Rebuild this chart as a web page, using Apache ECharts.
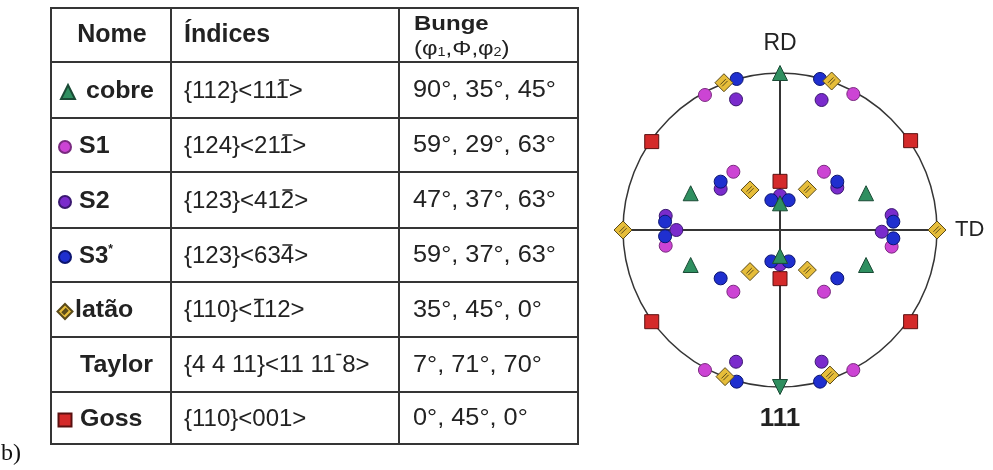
<!DOCTYPE html>
<html>
<head>
<meta charset="utf-8">
<script src="https://cdn.jsdelivr.net/npm/echarts@6/dist/echarts.min.js"></script>
<style>
  html, body { margin: 0; padding: 0; background: #fff; }
  #chart { width: 993px; height: 470px; }
</style>
</head>
<body>
<div id="chart"></div>
<script>
// ---- Texture components (table) ----
const componentNames = ['cobre', 'S1', 'S2', 'S3*', 'latão', 'Taylor', 'Goss'];
// U+0305 marks the digit (or gap) that carries an overbar
const millerIndices = ['{112}<111\u0305>', '{124}<211\u0305>', '{123}<412\u0305>', '{123}<634\u0305>',
                       '{110}<1\u030512>', '{4 4 11}<11 11 \u03058>', '{110}<001>'];
const bungeAngles = ['90°, 35°, 45°', '59°, 29°, 63°', '47°, 37°, 63°', '59°, 37°, 63°',
                     '35°, 45°, 0°', '7°, 71°, 70°', '0°, 45°, 0°'];
const headerNome = 'Nome';
const headerIndices = 'Índices';
const headerBunge = 'Bunge';
const panelLabel = 'b)';

// ---- {111} pole figure: [TD, RD] in units of the projection radius ----
const cobrePoles = [[0, 1.0], [0, -1.0], [-0.569, 0.234], [0.548, 0.234],
                    [-0.569, -0.223], [0.548, -0.223], [0, 0.17], [0, -0.165]];
const s1Poles = [[-0.478, 0.860], [0.467, 0.866], [-0.478, -0.892], [0.467, -0.892],
                 [-0.297, 0.371], [0.280, 0.371], [-0.297, -0.393], [0.280, -0.393],
                 [-0.728, -0.100], [0.711, -0.106]];
const s2Poles = [[-0.280, 0.832], [0.265, 0.828], [-0.280, -0.839], [0.265, -0.839],
                 [-0.378, 0.262], [0.365, 0.270], [-0.728, 0.090], [0.711, 0.095],
                 [-0.660, 0.0], [0.648, -0.011], [0, 0.22], [0, -0.22]];
const s3Poles = [[-0.276, 0.962], [0.255, 0.962], [-0.276, -0.966], [0.255, -0.966],
                 [-0.378, 0.308], [0.365, 0.308], [-0.378, -0.308], [0.365, -0.308],
                 [-0.732, 0.053], [0.722, 0.053], [-0.732, -0.040], [0.722, -0.053],
                 [-0.055, 0.19], [0.055, 0.19], [-0.055, -0.20], [0.055, -0.20]];
const lataoPoles = [[-1.0, 0], [1.0, 0], [-0.357, 0.938], [0.329, 0.949],
                    [-0.350, -0.934], [0.318, -0.924], [-0.191, 0.255], [0.174, 0.259],
                    [-0.191, -0.265], [0.174, -0.255]];
const gossPoles = [[-0.817, 0.563], [0.832, 0.569], [-0.817, -0.584], [0.832, -0.584],
                   [0, 0.31], [0, -0.31]];
const axisRD = 'RD';
const axisTD = 'TD';
const poleTitle = '111';

// ---- drawing ----
const INK = '#222';
const LINE = '#353535';
const SANS = '"Liberation Sans", Arial, sans-serif';
const measure = document.createElement('canvas').getContext('2d');

function label(text, x, y, font, extra) {
  extra = extra || {};
  const el = {
    type: 'text', x: x, y: y, silent: true,
    style: {
      text: text, font: font, fill: extra.fill || INK,
      textAlign: extra.align || 'left', align: extra.align || 'left',
      textVerticalAlign: 'middle', verticalAlign: 'middle'
    }
  };
  if (extra.rich) el.style.rich = extra.rich;
  if (extra.scaleX) el.scaleX = extra.scaleX;
  return el;
}

// text with overbars: characters followed by U+0305 get a short line above them
function barredText(raw, x, y, font) {
  let plain = '';
  const barred = [];
  for (const ch of raw) {
    if (ch === '\u0305') barred.push(plain.length - 1); else plain += ch;
  }
  measure.font = font;
  const els = [label(plain, x, y, font)];
  barred.forEach(function (i) {
    const x0 = x + measure.measureText(plain.slice(0, i)).width;
    const w = measure.measureText(plain[i]).width;
    els.push({
      type: 'line', silent: true,
      shape: { x1: x0 + w * 0.12, y1: y - 11, x2: x0 + w * 0.88, y2: y - 11 },
      style: { stroke: INK, lineWidth: 1.5 }
    });
  });
  return els;
}

// table geometry
const colX = [51, 171, 399, 578];
const rowY = [8, 62, 118, 172, 228, 282, 337, 392, 444];
const nameX = [86, 79, 79, 79, 75, 80, 80];
const rowsWithIcon = [true, true, true, true, true, false, true];

const graphics = [];
// grid lines
graphics.push({ type: 'rect', silent: true,
  shape: { x: colX[0], y: rowY[0], width: colX[3] - colX[0], height: rowY[rowY.length - 1] - rowY[0] },
  style: { fill: 'none', stroke: LINE, lineWidth: 2 } });
[colX[1], colX[2]].forEach(function (x) {
  graphics.push({ type: 'line', silent: true, shape: { x1: x, y1: rowY[0], x2: x, y2: rowY[rowY.length - 1] },
    style: { stroke: LINE, lineWidth: 2 } });
});
rowY.slice(1, -1).forEach(function (y) {
  graphics.push({ type: 'line', silent: true, shape: { x1: colX[0], y1: y, x2: colX[3], y2: y },
    style: { stroke: LINE, lineWidth: 2 } });
});

// header
const headY = (rowY[0] + rowY[1]) / 2;
graphics.push(label(headerNome, 112, headY, 'bold 25px ' + SANS, { align: 'center' }));
graphics.push(label(headerIndices, 184, headY, 'bold 25px ' + SANS));
graphics.push(label(headerBunge, 414, 24, 'bold 20px ' + SANS, { scaleX: 1.2 }));
graphics.push(label('(φ{s|1},Φ,φ{s|2})', 414, 49, '20px ' + SANS, {
  scaleX: 1.2,
  rich: { s: { font: '12px ' + SANS, verticalAlign: 'bottom', fill: INK } }
}));

// body rows
componentNames.forEach(function (name, i) {
  const cy = (rowY[i + 1] + rowY[i + 2]) / 2 + 1;
  if (name === 'S3*') {
    graphics.push(label('S3{s|*}', nameX[i], cy, 'bold 24px ' + SANS,
      { rich: { s: { font: 'bold 12px ' + SANS, verticalAlign: 'top', fill: INK } } }));
  } else {
    graphics.push(label(name, nameX[i], cy, 'bold 24px ' + SANS, { scaleX: 1.04 }));
  }
  barredText(millerIndices[i], 184, cy, '24px ' + SANS).forEach(function (e) { graphics.push(e); });
  graphics.push(label(bungeAngles[i], 413, cy, '23px ' + SANS, { scaleX: 1.1 }));
});
graphics.push(label(panelLabel, 1, 454, '24px "Liberation Serif", "Times New Roman", serif', { fill: '#111' }));

// legend icons in the name column, taken from the series symbols
const iconSize = { 'cobre': 14, 'S1': 12, 'S2': 12, 'S3*': 12, 'latão': 15, 'Goss': 13 };
const iconX = { 'cobre': 67, 'S1': 64, 'S2': 64, 'S3*': 64, 'latão': 64, 'Goss': 64 };
const legends = [];
componentNames.forEach(function (name, i) {
  if (!rowsWithIcon[i]) return;
  const cy = (rowY[i + 1] + rowY[i + 2]) / 2 + 1;
  const s = iconSize[name];
  legends.push({
    data: [name], left: iconX[name] - s / 2, top: cy - s / 2,
    itemWidth: s, itemHeight: s, padding: 0, itemGap: 0,
    selectedMode: false, formatter: function () { return ''; },
    textStyle: { fontSize: 8, lineHeight: s }
  });
});

const DIAMOND = 'path://M10,0 L20,10 L10,20 L0,10 Z M6,12 L12,6 M8,14 L14,8';

function poleSeries(name, data, symbol, size, color, border) {
  return {
    type: 'scatter', name: name, data: data, symbol: symbol, symbolSize: size,
    clip: false, z: 3,
    itemStyle: { color: color, borderColor: border, borderWidth: 1, opacity: 1 },
    emphasis: { disabled: true }
  };
}

const axisCommon = {
  type: 'value', min: -1, max: 1,
  axisLine: { onZero: true, lineStyle: { color: LINE, width: 2 } },
  axisTick: { show: false }, axisLabel: { show: false }, splitLine: { show: false }
};

const option = {
  animation: false,
  backgroundColor: '#fff',
  title: {
    text: poleTitle, left: 780, top: 406, padding: 0, textAlign: 'center',
    textStyle: { fontFamily: SANS, fontSize: 26, fontWeight: 'bold', color: INK }
  },
  grid: { left: 623, top: 73, width: 314, height: 314 },
  xAxis: Object.assign({}, axisCommon, {
    name: axisTD, nameLocation: 'end', nameGap: 18,
    nameTextStyle: { fontFamily: SANS, fontSize: 22, color: INK }
  }),
  yAxis: Object.assign({}, axisCommon, {
    name: axisRD, nameLocation: 'end', nameGap: 18,
    nameTextStyle: { fontFamily: SANS, fontSize: 23, color: INK, align: 'center' }
  }),
  polar: { center: [780, 230], radius: 157 },
  angleAxis: {
    type: 'value', min: 0, max: 360,
    axisLine: { lineStyle: { color: LINE, width: 1.5 } },
    axisTick: { show: false }, axisLabel: { show: false }, splitLine: { show: false }
  },
  radiusAxis: { show: false, min: 0, max: 1 },
  legend: legends,
  series: [
    poleSeries('S2', s2Poles, 'circle', 13, '#7a2bcc', '#3a1870'),
    poleSeries('S1', s1Poles, 'circle', 13, '#cc44d4', '#7a2a80'),
    poleSeries('S3*', s3Poles, 'circle', 13, '#1f2fcf', '#0c1470'),
    poleSeries('cobre', cobrePoles.map(function (p) {
      return p[1] < -0.99 ? { value: p, symbolRotate: 180 } : p;
    }), 'triangle', 15, '#2f8f60', '#1a4a35'),
    poleSeries('latão', lataoPoles, DIAMOND, 18, '#e6bd3a', '#5a4a1a'),
    poleSeries('Goss', gossPoles, 'rect', 14, '#d42a2a', '#5a1010')
  ],
  graphic: graphics
};

const chart = echarts.init(document.getElementById('chart'));
chart.setOption(option);
</script>
</body>
</html>
